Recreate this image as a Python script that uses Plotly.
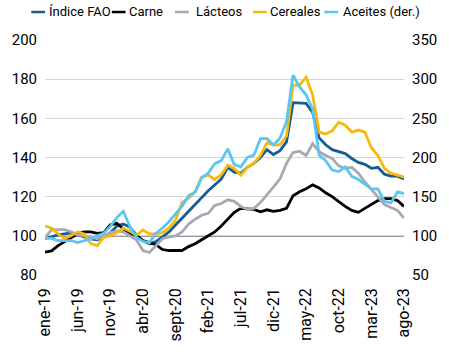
import plotly.graph_objects as go

# ---- data ----
abrev = ["ene", "feb", "mar", "abr", "may", "jun", "jul", "ago", "sept", "oct", "nov", "dic"]
meses = [f"{m}-{a}" for a in ["19", "20", "21", "22", "23"] for m in abrev][:56]
etiquetas = meses[::5]

indice_fao = [98.5, 99.5, 100.5, 101, 101.5, 100.5, 99.5, 98.5, 98, 99.5,
              101.5, 105, 106, 104.5, 100.5, 97.5, 96, 97, 99.5, 102,
              105.5, 109, 112.5, 116, 120, 123, 126, 129, 135, 132.5,
              132, 135, 137, 140, 144, 141.5, 143.5, 148, 168, 167.8,
              167.6, 163, 150, 146.5, 144, 143, 142, 139.5, 137.5, 136.5,
              134.5, 135, 131.5, 130.5, 130.5, 129]
carne = [91.7, 92.3, 95, 97, 99, 101, 102, 102, 101.3, 101.6,
         105.6, 106.4, 103.5, 101.3, 100, 97.6, 96.5, 95.5, 93, 92.5,
         92.5, 92.5, 94.5, 96, 98, 100, 102, 105, 108.5, 112,
         114, 113.6, 113.5, 112.3, 113.3, 112.5, 113, 114, 120.5, 122.5,
         124, 126, 124.5, 122, 120, 117.5, 115, 113, 112, 114,
         116, 118, 119, 119, 118, 115]
lacteos = [99, 103, 103.2, 103.2, 102, 100.5, 100, 99.5, 98.5, 99.5,
           101.5, 102.5, 102, 100, 98, 92.5, 91.5, 95, 98.5, 99.5,
           100, 102, 106, 108.5, 110.5, 111.5, 115.5, 116.5, 118.4, 117.6,
           115, 113.6, 114, 117, 121, 124.5, 129, 137, 142.5, 143.2,
           141, 147, 143, 141, 139.5, 135.7, 134.4, 135, 132, 127.5,
           123.5, 119.5, 116, 114.5, 113, 109]
cereales = [105, 104, 101, 98.7, 100, 102, 101, 96, 95, 99.2,
            100, 101.6, 104, 102.4, 100.3, 103, 101, 101, 101.6, 104,
            108, 117, 119.2, 122.4, 130, 131, 128.8, 131.2, 136, 134.4,
            131, 135, 137, 141, 147.5, 146.5, 146.5, 151, 177, 177,
            181, 172, 153, 152, 153.6, 158, 156.5, 153, 154, 153,
            145, 141, 134.4, 132, 131, 130]
aceites = [96.8, 96.8, 94, 94, 94, 91.3, 94, 96, 100, 103.3,
           112, 123.3, 131.3, 112, 98, 92.8, 91.3, 103.3, 110, 118,
           128, 138, 151, 156, 174, 180, 192, 196, 211, 191,
           188, 200, 203, 224, 224, 216, 225, 246, 305, 290,
           280, 262, 203, 196, 184, 182, 188, 176, 172, 166,
           160, 160, 144, 142, 156, 154]

series = [
    ("Índice FAO", indice_fao, "#135e96", "y"),
    ("Carne", carne, "#000000", "y"),
    ("Lácteos", lacteos, "#a7aab1", "y"),
    ("Cereales", cereales, "#f8b90c", "y"),
    ("Aceites (der.)", aceites, "#5cc6f2", "y2"),
]

FONT = "Roboto, Open Sans, sans-serif"
W, H = 449, 354
L, R, T, B = 28, 29, 40, 62

fig = go.Figure()
for name, vals, color, ax in series:
    fig.add_trace(go.Scatter(x=meses, y=vals, name=name, mode="lines",
                             line=dict(color=color, width=2.8), yaxis=ax,
                             showlegend=False))

def px2paper(px, py):
    return (px - L) / (W - L - R), (H - B - py) / (H - T - B)

# manual legend (short swatches like the original)
leg = [(13, 30), (101, 118), (170, 191), (255, 272), (333, 351)]
shapes = []
annotations = []
for (x0, tx), (name, _, color, _) in zip(leg, series):
    a0, yy = px2paper(x0, 10)
    a1, _ = px2paper(x0 + 15, 10)
    shapes.append(dict(type="line", xref="paper", yref="paper", x0=a0, x1=a1,
                       y0=yy, y1=yy, line=dict(color=color, width=2.5)))
    ax_, ay_ = px2paper(tx, 9)
    annotations.append(dict(text=name, xref="paper", yref="paper", x=ax_, y=ay_,
                            xanchor="left", yanchor="middle", showarrow=False,
                            font=dict(family=FONT, size=13, color="#000")))

shapes.append(dict(type="line", xref="paper", yref="y", x0=0, x1=1, y0=100, y1=100,
                   line=dict(color="#333333", width=1.3), layer="below"))

fig.update_layout(
    width=W, height=H, autosize=False,
    margin=dict(l=L, r=R, t=T, b=B, pad=0),
    plot_bgcolor="white", paper_bgcolor="white",
    font=dict(family=FONT, size=15, color="#000"),
    shapes=shapes, annotations=annotations,
    xaxis=dict(type="category", range=[0, 55], tickvals=etiquetas, ticktext=etiquetas,
               tickangle=-90, showgrid=False, zeroline=False, showline=False,
               ticks="", ticklabelstandoff=9, tickfont=dict(size=16)),
    yaxis=dict(range=[80, 200], dtick=20, tick0=80, showgrid=True, gridcolor="#d6d6d6",
               gridwidth=1, zeroline=False, showline=False, ticks="",
               ticklabelstandoff=7),
    yaxis2=dict(range=[50, 350], dtick=50, tick0=50, overlaying="y", side="right",
                showgrid=False, zeroline=False, showline=False, ticks="",
                ticklabelstandoff=7),
)

fig.write_html("out.html")
